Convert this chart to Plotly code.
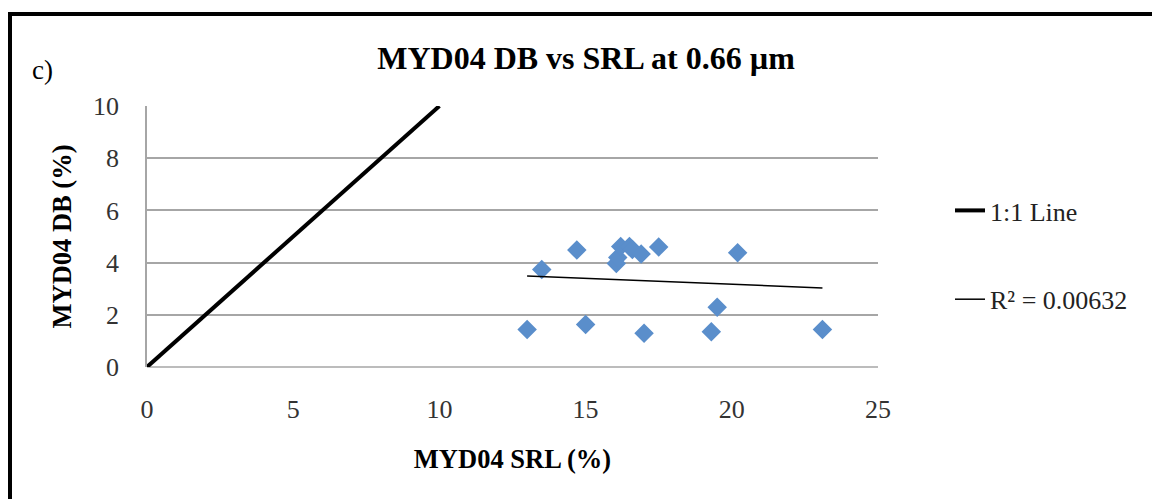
import plotly.graph_objects as go

# Data
srl_x = [13.0, 13.5, 14.7, 15.0, 16.05, 16.1, 16.2, 16.5, 16.6, 16.9, 17.0, 17.5, 19.3, 19.5, 20.2, 23.1]
db_y = [1.44, 3.74, 4.48, 1.63, 3.97, 4.2, 4.62, 4.62, 4.5, 4.33, 1.29, 4.6, 1.35, 2.29, 4.38, 1.44]
one_to_one_x = [0, 10]
one_to_one_y = [0, 10]
trend_x = [13.0, 23.1]
trend_y = [3.49, 3.03]
x_ticks = [0, 5, 10, 15, 20, 25]
y_ticks = [0, 2, 4, 6, 8, 10]

W, H = 1152, 499
L, R, T, B = 147, 274, 106, 132
pw, ph = W - L - R, H - T - B

def px(xp):
    return (xp - L) / pw

def py(yp):
    return (H - B - yp) / ph

serif = "Liberation Serif, Times New Roman, serif"

fig = go.Figure()
fig.add_trace(go.Scatter(
    x=srl_x, y=db_y, mode="markers", showlegend=False,
    marker=dict(symbol="diamond", size=15, color="#5a8ecb", line=dict(width=0)),
))
fig.add_trace(go.Scatter(
    x=one_to_one_x, y=one_to_one_y, mode="lines", name="1:1 Line",
    line=dict(color="black", width=4), legendgroup="a",
))
fig.add_trace(go.Scatter(
    x=trend_x, y=trend_y, mode="lines", name="R² = 0.00632",
    line=dict(color="black", width=1.5), legendgroup="b",
))

fig.update_layout(
    width=W, height=H,
    margin=dict(l=L, r=R, t=T, b=B),
    paper_bgcolor="white", plot_bgcolor="white",
    font=dict(family=serif, color="#222222", size=26),
    title=dict(
        text="<b>MYD04 DB vs SRL at 0.66 µm</b>",
        xref="container", x=586 / W, xanchor="center", y=1 - 58 / H, yanchor="middle",
        font=dict(family=serif, size=32, color="black"),
    ),
    xaxis=dict(
        range=[0, 25], tickvals=x_ticks, showgrid=False, zeroline=False,
        showline=False, ticks="", tickfont=dict(size=26, color="#333333"),
        ticklabelstandoff=24,
        title=dict(text="<b>MYD04 SRL (%)</b>", font=dict(size=26.5, color="black"), standoff=26),
    ),
    yaxis=dict(
        range=[0, 10], tickvals=y_ticks, showgrid=True, gridcolor="#a6a6a6", gridwidth=1.5,
        zeroline=False, showline=True, linecolor="#a6a6a6", linewidth=1.5, ticks="",
        tickfont=dict(size=26, color="#333333"), ticklabelstandoff=21,
        title=dict(text="<b>MYD04 DB (%)</b>", font=dict(size=26.5, color="black"), standoff=14),
    ),
    legend=dict(
        x=px(950), xanchor="left", y=py(187), yanchor="top",
        font=dict(family=serif, size=26, color="#222222"),
        bgcolor="rgba(0,0,0,0)", traceorder="grouped", tracegroupgap=52,
    ),
    shapes=[
        dict(type="rect", xref="paper", yref="paper",
             x0=px(10), x1=px(1156), y0=py(14), y1=py(505),
             line=dict(color="black", width=4), fillcolor="rgba(0,0,0,0)", layer="above"),
        dict(type="line", xref="paper", yref="paper",
             x0=0, x1=1, y0=0, y1=0, line=dict(color="#a6a6a6", width=1.5), layer="below"),
    ],
    annotations=[
        dict(text="c)", xref="paper", yref="paper", x=px(30), y=py(70),
             xanchor="left", yanchor="middle", showarrow=False,
             font=dict(family=serif, size=27, color="black")),
    ],
)

fig.write_html("out.html")
